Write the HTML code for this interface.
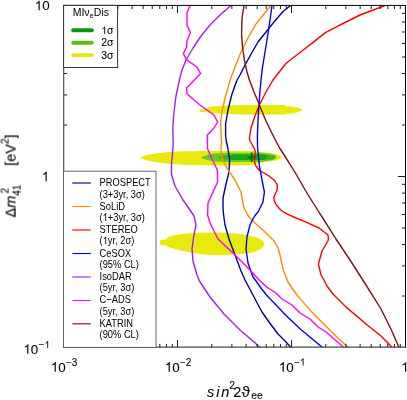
<!DOCTYPE html>
<html><head><meta charset="utf-8"><title>plot</title>
<style>
html,body{margin:0;padding:0;background:#fff;}
body{width:407px;height:400px;overflow:hidden;font-family:"Liberation Sans",sans-serif;}
svg{display:block;}
text{font-family:"Liberation Sans",sans-serif;fill:#000;stroke:#000;stroke-width:0.1px;filter:grayscale(1);}
.c{fill:none;stroke-width:1.4;stroke-linejoin:round;stroke-linecap:butt;}
.tk{stroke:#000;stroke-width:0.9;fill:none;}
.lg{font-size:10.9px;stroke-width:0;}
.tl{font-size:13.4px;}
.sup{font-size:10px;}
</style></head><body>
<svg width="407" height="400" viewBox="0 0 407 400">
<rect x="0" y="0" width="407" height="400" fill="#fff"/>
<defs><clipPath id="cp"><rect x="63.5" y="5.5" width="342" height="342"/></clipPath></defs>

<g clip-path="url(#cp)">
<path d="M199.7,110.6 L200.3,109.2 L207,108.8 L208,107 L215,106.2 L226,105.6 L244,105.1 L285,105 L286,106.2 L292,106.6 L298,107.6 L302.6,109.7 L298,112.2 L292,113.4 L286,113.8 L285,114.4 L244,114.6 L226,114 L208,113 L207,112.2 L200.3,112Z" fill="#e8ea0c"/>
<path d="M139.9,157.3 L147.3,154.8 L159.6,153 L172,151.8 L184,151.2 C200,150.9 230,150.8 254,151 L258,151.4 L263,152.2 L274.5,153.4 C278,154.3 281,155.8 282,157.2 C281,158.6 278,160 274.5,160.8 L263,162.3 L259.5,163.3 L255,164.3 L250,165.3 C230,165.5 200,165.3 184,164.9 L172,164 L159.6,162.8 L147.3,160.7Z" fill="#e8ea0c"/>
<path d="M200.8,157.6 C204,156 208,154.6 214,153.6 C220,152.9 228,152.7 236,152.7 L261,152.7 L268,153.6 L275,154.9 L276.6,157.3 L275,159.5 L268,161 L261,162 L236,162.1 C228,162.1 220,162 214,161.4 C208,160.6 204,159.2 200.8,157.6Z" fill="#64cc22"/>
<path d="M218,157.4 C221,155.8 225,155 230,154.7 L264,154.6 L270,155.2 L274.6,155.8 L274.6,158.8 L270,159.4 L264,160 L230,160 C225,159.7 221,159 218,157.4Z" fill="#36b61c"/>
<path d="M229,157.4 C230,155.6 232,154.7 235,154.6 L262,154.6 L266,155.3 L267,157.3 L266,159.3 L262,160 L235,160 C232,159.9 230,159.2 229,157.4Z" fill="#12a812"/>
<path d="M247.4,157.4H255.8M251.7,152.6V161.9" stroke="#0a6a0a" stroke-width="1.7" fill="none"/>
<path d="M159.7,242.6 L160.5,240 L166,239.6 L168.5,236.8 L174,235.3 L180,234.2 L192,233 L204,232.4 L215,232.4 C235,232.6 252,234.5 260,239 C263,241 264.6,243 264.4,244.2 C264,247 260,250 254,252 C244,254.5 230,255.2 215,255.2 L204,254.4 L192,252.7 L180,250.3 L174,248.8 L168.5,247 L166,245.6 L160.5,245.2Z" fill="#e8ea0c"/>
<polyline class="c" stroke="#000099" points="290.6,5.5 283.0,11.5 274.0,22.0 266.0,32.0 258.0,42.0 250.0,56.0 244.0,67.0 240.0,75.0 237.0,80.0 232.0,94.0 228.0,110.0 225.6,124.0 225.6,136.0 226.5,142.0 228.0,149.0 229.6,160.0 229.0,172.0 226.0,184.0 223.0,198.0 223.0,208.0 223.6,215.0 225.0,225.0 229.0,239.0 235.0,255.0 241.0,271.0 245.0,280.0 254.0,297.0 262.0,312.0 269.0,322.0 278.0,334.0 286.0,342.0 291.0,347.5"/>
<polyline class="c" stroke="#ff8c00" points="271.0,5.5 264.0,14.0 256.0,24.0 249.0,36.0 244.0,46.0 240.0,54.4 234.6,68.0 230.2,80.0 225.6,96.0 222.3,110.0 220.6,122.0 221.0,134.0 221.6,142.0 221.0,150.0 222.0,156.0 223.6,162.0 228.0,170.0 235.0,180.0 241.0,192.0 244.0,208.0 247.6,215.0 251.0,219.0 255.0,223.0 266.0,233.0 274.0,241.0 278.0,248.0 280.0,255.0 283.0,269.0 288.0,282.0 292.0,288.0 297.0,295.0 300.0,298.6 310.0,309.9 320.0,320.3 330.0,330.3 340.0,340.0 348.6,347.5"/>
<polyline class="c" stroke="#ff0000" points="385.0,5.5 360.0,15.0 344.0,23.0 335.0,27.6 325.8,32.4 314.0,41.6 302.0,51.0 286.4,63.0 280.0,71.0 273.0,80.0 266.0,92.0 259.4,105.0 255.0,116.0 251.0,128.0 249.4,138.0 250.0,141.0 253.0,146.0 255.0,150.0 255.4,156.0 254.4,162.0 256.0,166.0 259.0,170.0 269.0,176.0 275.0,181.0 277.4,185.5 277.0,190.5 275.0,194.5 273.9,197.5 274.2,200.5 275.6,203.6 278.0,207.0 280.5,209.8 284.0,212.3 287.5,214.2 296.0,218.0 305.0,221.7 319.0,228.0 328.0,235.0 328.4,240.0 322.0,251.0 318.4,264.0 321.0,275.0 324.0,280.0 327.0,286.0 333.0,294.0 340.0,301.0 346.5,307.4 366.0,324.0 381.0,336.0 392.3,347.5"/>
<polyline class="c" stroke="#0000ff" points="272.0,5.5 270.0,20.0 267.6,36.0 265.0,52.0 262.4,68.0 261.0,80.0 259.6,96.0 259.0,105.0 258.0,120.0 257.4,136.0 257.6,148.0 258.0,152.0 259.4,166.0 262.0,180.0 264.4,192.0 263.0,202.0 258.0,212.0 255.0,215.5 252.4,220.0 250.0,225.0 247.0,237.0 246.0,249.0 248.0,263.0 253.0,277.0 256.0,281.0 261.0,288.0 266.0,294.5 270.0,298.8 277.5,306.5 285.0,314.5 300.0,328.7 311.0,338.0 322.6,347.5"/>
<polyline class="c" stroke="#a020f0" points="231.0,5.5 220.0,15.0 210.0,25.0 201.0,36.0 193.0,48.0 186.0,60.0 182.0,70.0 179.4,80.0 176.0,96.0 174.0,112.0 172.8,128.0 173.2,144.0 172.4,155.0 171.6,162.0 171.4,174.0 175.0,186.0 183.0,200.0 190.0,210.0 194.0,216.0 196.0,225.0 193.6,237.0 192.0,249.0 193.0,261.0 197.0,275.0 199.5,281.0 204.0,288.0 210.0,297.0 224.0,314.0 240.0,330.0 254.0,342.0 260.0,347.5"/>
<polyline class="c" stroke="#ff00ff" points="190.0,5.5 187.0,13.0 187.0,25.0 190.4,32.6 187.0,41.0 186.6,47.0 183.4,53.6 186.4,59.6 197.0,67.0 200.6,73.6 194.4,80.0 186.6,88.0 187.0,94.0 200.0,105.0 214.0,115.0 217.6,122.0 214.0,128.0 207.4,135.0 207.6,149.0 212.4,160.0 217.4,170.0 217.6,182.0 213.0,192.0 208.0,203.0 207.6,215.0 210.0,223.0 218.0,239.0 234.0,254.0 250.0,270.0 260.0,281.0 268.0,288.0 276.0,293.0 282.0,299.0 292.0,305.0 300.0,313.0 310.0,319.0 318.0,327.0 326.0,332.0 334.0,339.0 340.0,344.0 343.5,347.5"/>
<polyline class="c" stroke="#841010" points="244.0,5.5 242.0,18.0 241.6,34.0 242.4,46.0 244.4,60.0 247.0,72.0 249.4,80.0 254.0,92.0 259.4,105.0 266.0,121.0 274.3,138.0 279.6,148.0 284.8,156.0 296.0,174.0 307.5,194.0 317.6,210.0 324.0,220.0 336.0,239.0 350.0,260.0 366.0,285.0 381.0,309.0 391.4,330.0 399.0,347.5"/>
</g>
<path class="tk" d="M97.82,347.5v-3.6M97.82,5.5v3.6M117.89,347.5v-3.6M117.89,5.5v3.6M132.13,347.5v-3.6M132.13,5.5v3.6M143.18,347.5v-3.6M143.18,5.5v3.6M152.21,347.5v-3.6M152.21,5.5v3.6M159.84,347.5v-3.6M159.84,5.5v3.6M166.45,347.5v-3.6M166.45,5.5v3.6M172.28,347.5v-3.6M172.28,5.5v3.6M177.50,347.5v-7.5M177.50,5.5v7.5M211.82,347.5v-3.6M211.82,5.5v3.6M231.89,347.5v-3.6M231.89,5.5v3.6M246.13,347.5v-3.6M246.13,5.5v3.6M257.18,347.5v-3.6M257.18,5.5v3.6M266.21,347.5v-3.6M266.21,5.5v3.6M273.84,347.5v-3.6M273.84,5.5v3.6M280.45,347.5v-3.6M280.45,5.5v3.6M286.28,347.5v-3.6M286.28,5.5v3.6M291.50,347.5v-7.5M291.50,5.5v7.5M325.82,347.5v-3.6M325.82,5.5v3.6M345.89,347.5v-3.6M345.89,5.5v3.6M360.13,347.5v-3.6M360.13,5.5v3.6M371.18,347.5v-3.6M371.18,5.5v3.6M380.21,347.5v-3.6M380.21,5.5v3.6M387.84,347.5v-3.6M387.84,5.5v3.6M394.45,347.5v-3.6M394.45,5.5v3.6M400.28,347.5v-3.6M400.28,5.5v3.6M63.5,296.02h3.6M405.5,296.02h-3.6M63.5,265.91h3.6M405.5,265.91h-3.6M63.5,244.55h3.6M405.5,244.55h-3.6M63.5,227.98h3.6M405.5,227.98h-3.6M63.5,214.44h3.6M405.5,214.44h-3.6M63.5,202.99h3.6M405.5,202.99h-3.6M63.5,193.07h3.6M405.5,193.07h-3.6M63.5,184.32h3.6M405.5,184.32h-3.6M63.5,176.50h7.5M405.5,176.50h-7.5M63.5,125.02h3.6M405.5,125.02h-3.6M63.5,94.91h3.6M405.5,94.91h-3.6M63.5,73.55h3.6M405.5,73.55h-3.6M63.5,56.98h3.6M405.5,56.98h-3.6M63.5,43.44h3.6M405.5,43.44h-3.6M63.5,31.99h3.6M405.5,31.99h-3.6M63.5,22.07h3.6M405.5,22.07h-3.6M63.5,13.32h3.6M405.5,13.32h-3.6"/>
<path d="M63,5.4H406M405.5,5V348" stroke="#000" stroke-width="1" fill="none"/>
<path d="M63.7,5V347.8M63,347.15H406" stroke="#4a4a4a" stroke-width="1.15" fill="none"/>
<g style="opacity:0.999">
<rect x="63.6" y="5.4" width="54" height="62.1" fill="#fff" stroke="#333" stroke-width="1"/>
<text class="lg" style="font-size:10.5px" x="72.7" y="15.8">MI&#957;<tspan dy="2" style="font-size:7.6px">e</tspan><tspan dy="-2">Dis</tspan></text>
<line x1="73.15" y1="30.3" x2="91.8" y2="30.3" stroke="#05990c" stroke-width="3.9" stroke-linecap="round"/>
<path d="M763 0H583V1147Q518 1085 412.5 1023Q307 961 223 930V1104Q374 1175 487 1276Q600 1377 647 1472H763Z" transform="translate(101.30,33.90) scale(0.00508,-0.00508)" fill="#000"/><text style="font-size:10.4px" x="107.08" y="33.9">&#963;</text>
<line x1="73.15" y1="42.7" x2="91.8" y2="42.7" stroke="#58c00a" stroke-width="3.9" stroke-linecap="round"/>
<text style="font-size:10.4px" x="101.3" y="46.3">2&#963;</text>
<line x1="73.15" y1="55.1" x2="91.8" y2="55.1" stroke="#e6e608" stroke-width="3.9" stroke-linecap="round"/>
<text style="font-size:10.4px" x="101.3" y="58.7">3&#963;</text>
<rect x="63.5" y="171.2" width="92.5" height="176.3" fill="#fff" stroke="#666" stroke-width="1"/>
<line x1="72.3" y1="183.00" x2="90.8" y2="183.00" stroke="#000099" stroke-width="1.15"/>
<text class="lg" transform="translate(99.6,186.4) scale(0.853,1)">PROSPECT</text>
<text class="lg" transform="translate(99.6,197.5) scale(0.853,1)">(3+3yr, 3&#963;)</text>
<line x1="72.3" y1="206.50" x2="90.8" y2="206.50" stroke="#ff8c00" stroke-width="1.15"/>
<text class="lg" transform="translate(99.6,209.8) scale(0.853,1)">SoLiD</text>
<g transform="translate(99.6,220.9) scale(0.853,1)"><text class="lg" x="0" y="0">(</text><path d="M763 0H583V1147Q518 1085 412.5 1023Q307 961 223 930V1104Q374 1175 487 1276Q600 1377 647 1472H763Z" transform="translate(3.63,0.00) scale(0.00532,-0.00532)" fill="#000"/><text class="lg" x="9.69" y="0">+3yr, 3&#963;)</text></g>
<line x1="72.3" y1="230.00" x2="90.8" y2="230.00" stroke="#ff0000" stroke-width="1.15"/>
<text class="lg" transform="translate(99.6,233.2) scale(0.853,1)">STEREO</text>
<g transform="translate(99.6,244.3) scale(0.853,1)"><text class="lg" x="0" y="0">(</text><path d="M763 0H583V1147Q518 1085 412.5 1023Q307 961 223 930V1104Q374 1175 487 1276Q600 1377 647 1472H763Z" transform="translate(3.63,0.00) scale(0.00532,-0.00532)" fill="#000"/><text class="lg" x="9.69" y="0">yr, 2&#963;)</text></g>
<line x1="72.3" y1="253.50" x2="90.8" y2="253.50" stroke="#0000ff" stroke-width="1.15"/>
<text class="lg" transform="translate(99.6,256.6) scale(0.853,1)">CeSOX</text>
<text class="lg" transform="translate(99.6,267.7) scale(0.853,1)">(95% CL)</text>
<line x1="72.3" y1="277.00" x2="90.8" y2="277.00" stroke="#a020f0" stroke-width="1.15"/>
<text class="lg" transform="translate(99.6,280.0) scale(0.853,1)">IsoDAR</text>
<text class="lg" transform="translate(99.6,291.1) scale(0.853,1)">(5yr, 3&#963;)</text>
<line x1="72.3" y1="300.50" x2="90.8" y2="300.50" stroke="#ff00ff" stroke-width="1.15"/>
<text class="lg" transform="translate(99.6,303.4) scale(0.853,1)">C&#8722;ADS</text>
<text class="lg" transform="translate(99.6,314.5) scale(0.853,1)">(5yr, 3&#963;)</text>
<line x1="72.3" y1="323.80" x2="90.8" y2="323.80" stroke="#841010" stroke-width="1.15"/>
<text class="lg" transform="translate(99.6,326.8) scale(0.853,1)">KATRIN</text>
<text class="lg" transform="translate(99.6,337.9) scale(0.853,1)">(90% CL)</text>
<path d="M763 0H583V1147Q518 1085 412.5 1023Q307 961 223 930V1104Q374 1175 487 1276Q600 1377 647 1472H763Z" transform="translate(34.70,10.30) scale(0.00654,-0.00654)" fill="#000"/><text class="tl" x="42.15" y="10.3">0</text>
<path d="M763 0H583V1147Q518 1085 412.5 1023Q307 961 223 930V1104Q374 1175 487 1276Q600 1377 647 1472H763Z" transform="translate(41.75,181.20) scale(0.00654,-0.00654)" fill="#000"/>
<path d="M763 0H583V1147Q518 1085 412.5 1023Q307 961 223 930V1104Q374 1175 487 1276Q600 1377 647 1472H763Z" transform="translate(23.40,353.80) scale(0.00654,-0.00654)" fill="#000"/><text class="tl" x="30.85" y="353.8">0</text><text class="sup" x="38.60" y="348.20">&#8722;</text><path d="M763 0H583V1147Q518 1085 412.5 1023Q307 961 223 930V1104Q374 1175 487 1276Q600 1377 647 1472H763Z" transform="translate(44.44,348.20) scale(0.00488,-0.00488)" fill="#000"/>
<path d="M763 0H583V1147Q518 1085 412.5 1023Q307 961 223 930V1104Q374 1175 487 1276Q600 1377 647 1472H763Z" transform="translate(50.80,371.70) scale(0.00654,-0.00654)" fill="#000"/><text class="tl" x="58.25" y="371.7">0</text><text class="sup" x="66.00" y="365.50">&#8722;3</text>
<path d="M763 0H583V1147Q518 1085 412.5 1023Q307 961 223 930V1104Q374 1175 487 1276Q600 1377 647 1472H763Z" transform="translate(164.80,371.70) scale(0.00654,-0.00654)" fill="#000"/><text class="tl" x="172.25" y="371.7">0</text><text class="sup" x="180.00" y="365.50">&#8722;2</text>
<path d="M763 0H583V1147Q518 1085 412.5 1023Q307 961 223 930V1104Q374 1175 487 1276Q600 1377 647 1472H763Z" transform="translate(278.80,371.70) scale(0.00654,-0.00654)" fill="#000"/><text class="tl" x="286.25" y="371.7">0</text><text class="sup" x="294.00" y="365.50">&#8722;</text><path d="M763 0H583V1147Q518 1085 412.5 1023Q307 961 223 930V1104Q374 1175 487 1276Q600 1377 647 1472H763Z" transform="translate(299.84,365.50) scale(0.00488,-0.00488)" fill="#000"/>
<path d="M763 0H583V1147Q518 1085 412.5 1023Q307 961 223 930V1104Q374 1175 487 1276Q600 1377 647 1472H763Z" transform="translate(401.18,371.80) scale(0.00654,-0.00654)" fill="#000"/>
<text style="font-size:14.5px" y="397"><tspan x="207" style="font-style:italic;letter-spacing:1.9px">sin</tspan><tspan x="229.2" y="389" style="font-size:10.3px">2</tspan><tspan x="233.3" y="397">2</tspan><tspan x="241.6" y="397" style="font-size:15.5px">&#977;</tspan><tspan x="251.3" y="399.3" style="font-size:10.3px">ee</tspan></text>
<g transform="translate(15.6,217.5) rotate(-90)"><text style="font-size:14.5px" x="0" y="0">&#916;<tspan style="font-style:italic">m</tspan><tspan style="font-size:10px" dy="4.5">41</tspan><tspan style="font-size:10px" dy="-11.4" dx="-8.8">2</tspan><tspan dy="6.9" dx="22">[eV</tspan><tspan style="font-size:10px" dy="-7">2</tspan><tspan dy="7">]</tspan></text></g>
</g>
</svg></body></html>
